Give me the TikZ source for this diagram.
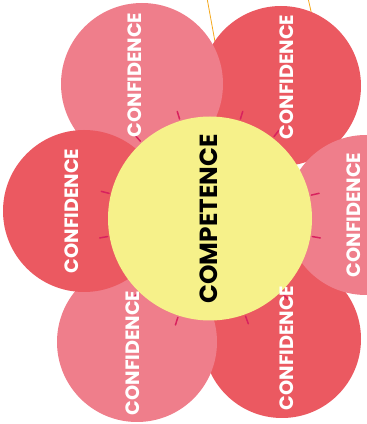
\documentclass[tikz,border=0pt]{standalone}
\usepackage{fontspec}
\setmainfont{Poppins}
\definecolor{petalpink}{HTML}{EF7E8B}
\definecolor{petalred}{HTML}{EB5961}
\definecolor{coreyellow}{HTML}{F6F18A}
\definecolor{raypink}{HTML}{D8225E}
\definecolor{stringorange}{HTML}{F5A81C}
\begin{document}
\begin{tikzpicture}[x=1pt,y=1pt,line cap=round,
  petal/.style={font=\bfseries\fontsize{19.3}{19}\selectfont,text=white,rotate=90,inner sep=0pt},
  corelabel/.style={font=\bfseries\fontsize{24.8}{25}\selectfont,text=black,rotate=90,inner sep=0pt},
  ray/.style={draw=raypink,line width=1.5pt},
  string/.style={draw=stringorange,line width=0.8pt}]
 \useasboundingbox (0,0) rectangle (367,424);
 % strings behind the flower
 \draw[string] (207,426)--(222,344);
 \draw[string] (308,426)--(322,364);
 % petals, back to front
 \fill[petalred] (281,338) circle (80);
 \fill[petalpink] (142,340) circle (81);
 \fill[petalred] (282,85) circle (79);
 \fill[petalpink] (137,82) circle (80);
 \fill[petalred] (84,213) circle (81);
 \fill[petalpink] (366,209) circle (80);
 % rays and centre
 \coordinate (core) at (210,205.5);
 \foreach \a in {13,52,73,107,132,166,190,226,252,290,314,350}
 \draw[ray,shift={(core)}] (\a:104)--(\a:112);
 \fill[coreyellow] (core) circle (102);
 \node[petal] (conftl) at (135,349) {CONFIDENCE};
 \node[petal] (conftr) at (287,347) {CONFIDENCE};
 \node[petal] (confl) at (72,213) {CONFIDENCE};
 \node[petal] (confr) at (353.5,209) {CONFIDENCE};
 \node[petal] (confbl) at (133,71) {CONFIDENCE};
 \node[petal] (confbr) at (287,76) {CONFIDENCE};
 \node[corelabel] (comp) at (209,205) {COMPETENCE};
\end{tikzpicture}
\end{document}
